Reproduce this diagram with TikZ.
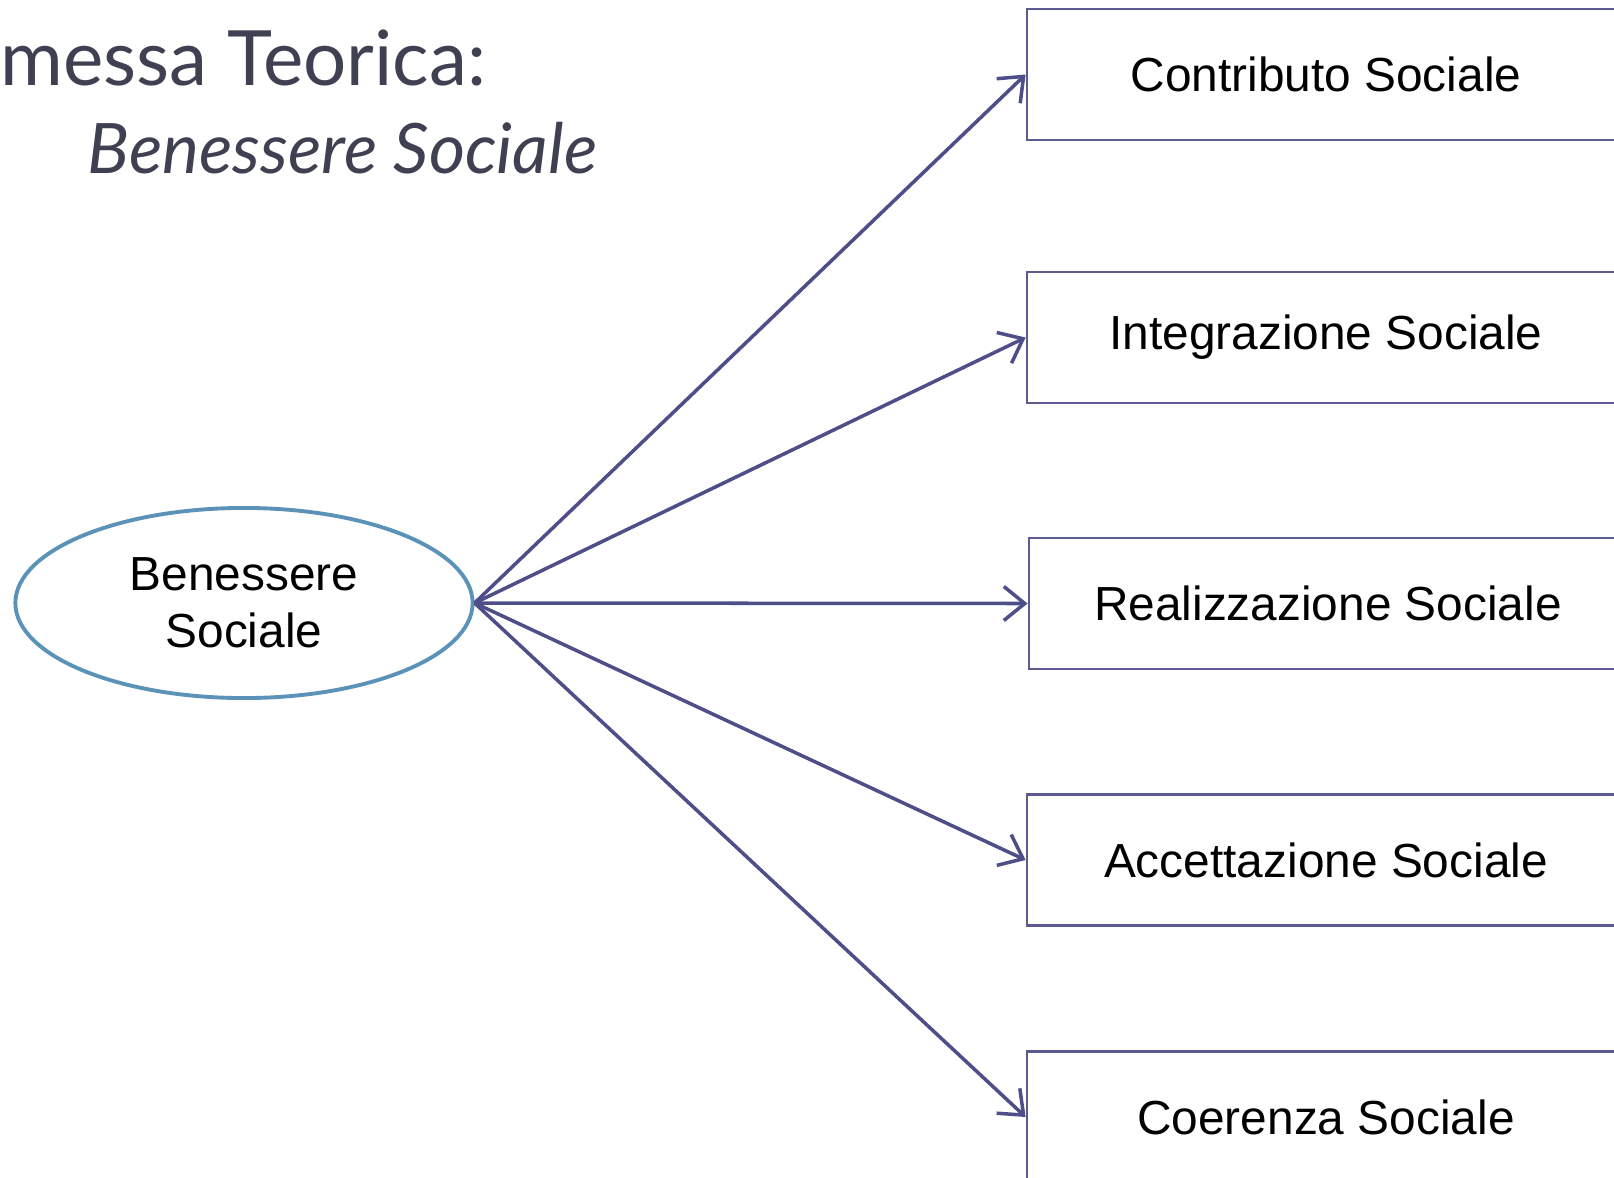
\documentclass[tikz,border=0pt]{standalone}
\usepackage{fontspec}
\setmainfont{Liberation Sans}
\newfontfamily\titlefont{Lato}
\usetikzlibrary{arrows.meta,shapes.geometric}
\definecolor{titlegray}{HTML}{3F4152}
\definecolor{ovalblue}{HTML}{5A93B7}
\definecolor{arrowblue}{HTML}{4E4E88}
\definecolor{boxblue}{HTML}{5B5B91}
\tikzset{
  tit/.style = {anchor=base west, inner sep=0pt, text=titlegray, font=\titlefont\fontsize{21.7pt}{25pt}\selectfont},
  lat/.style = {ellipse, draw=ovalblue, line width=1.1pt, minimum width=4.57cm, minimum height=1.9cm,
                align=center, font=\fontsize{13.6pt}{16.2pt}\selectfont},
  ind/.style = {rectangle, draw=boxblue, line width=0.7pt, minimum width=5.98cm, minimum height=1.31cm,
                font=\fontsize{13.6pt}{16pt}\selectfont},
  link/.style = {draw=arrowblue, line width=1pt, -{Straight Barb[length=2.1mm,width=3.4mm,line width=1pt]}}
}

\begin{document}
\begin{tikzpicture}[x=0.01cm,y=-0.01cm]
\useasboundingbox (0,0) rectangle (1614,1178);

\node [tit] (t1) at (0,85) {messa Teorica:};
\node [tit, font=\titlefont\itshape\fontsize{19.8pt}{24pt}\selectfont] (t2) at (87,173) {Benessere Sociale};

\node [lat] (bs) at (244,603) {Benessere\\Sociale};

\node [ind] (c1) at (1326,74.5) {Contributo Sociale};
\node [ind] (c2) at (1326,337.5) {Integrazione Sociale};
\node [ind] (c3) at (1328,603.5) {Realizzazione Sociale};
\node [ind] (c4) at (1326,860) {Accettazione Sociale};
\node [ind] (c5) at (1326,1117) {Coerenza Sociale};

\foreach \c in {c1,c2,c3,c4,c5}
  \draw [link] (bs.east) -- (\c.west);
\end{tikzpicture}
\end{document}
